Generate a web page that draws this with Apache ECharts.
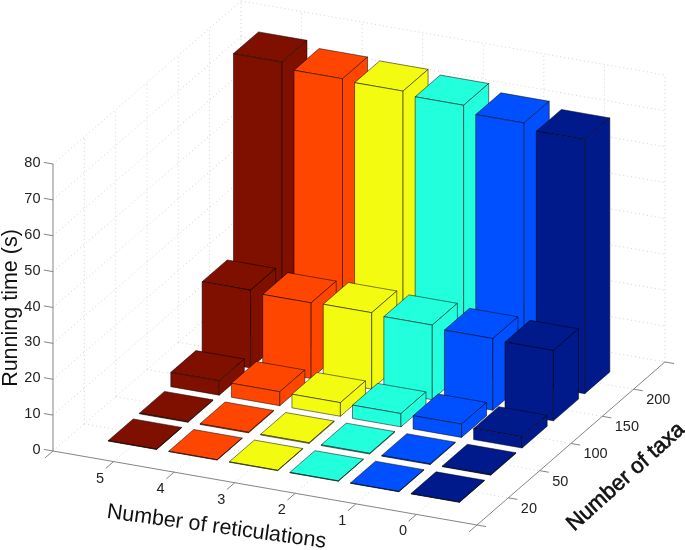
<!DOCTYPE html>
<html>
<head>
<meta charset="utf-8">
<style>html,body{margin:0;padding:0;background:#fff}#c{width:685px;height:550px;filter:blur(0.4px)}</style>
<script src="https://cdn.jsdelivr.net/npm/echarts@6/dist/echarts.min.js"></script>
</head>
<body>
<div id="c"></div>
<script>
// ---- data ----
const reticulations = ['5', '4', '3', '2', '1', '0'];
const taxa = ['20', '50', '100', '150', '200'];
const timeTicks = [0, 10, 20, 30, 40, 50, 60, 70, 80];
// running time per number of taxa, in the order of `reticulations`
const taxa20 = [0.1, 0.1, 0.1, 0.1, 0.1, 0.1];
const taxa50 = [0.2, 0.2, 0.2, 0.2, 0.2, 0.2];
const taxa100 = [4.0, 3.9, 3.8, 3.7, 3.7, 3.1];
const taxa150 = [21.7, 21.1, 21.3, 20.8, 20.0, 19.6];
const taxa200 = [77.7, 76.0, 75.5, 74.5, 72.5, 70.8];
const times = [taxa20, taxa50, taxa100, taxa150, taxa200];

// ---- styles ----
const barColors = ['#7f1000', '#ff4600', '#f2fb10', '#22ffdc', '#0050ff', '#001a8c'];
const axisColor = '#858585', gridColor = '#d4d4d4', textColor = '#222';
const FONT = '"Liberation Sans", Arial, sans-serif';

// ---- 3D view: floor units along reticulations (u), taxa (v), and time (w) ----
const view = { ox: 53, oy: 451, ux: 60.57, uy: 10.57, vx: 31.33, vy: -27.17, wy: -3.5875 };
const uMax = reticulations.length + 1, vMax = taxa.length + 1, wMax = 80;
const barW = 0.4;
function plane(u, v, w) {
  return [view.ox + view.ux * u + view.vx * v, view.oy + view.uy * u + view.vy * v + view.wy * w];
}
function poly(api, pts, style) {
  return { type: 'polygon', shape: { points: pts.map(p => api.coord(plane(p[0], p[1], p[2]))) }, style };
}
function seg(api, a, b, stroke, dash, width) {
  const p = api.coord(plane(a[0], a[1], a[2])), q = api.coord(plane(b[0], b[1], b[2]));
  return { type: 'line', shape: { x1: p[0], y1: p[1], x2: q[0], y2: q[1] },
    style: { stroke, lineWidth: width || 1, lineDash: dash || null } };
}
function label(api, at, text, dx, dy, align) {
  const p = api.coord(plane(at[0], at[1], at[2]));
  return { type: 'text', x: p[0] + dx, y: p[1] + dy, style: { text, align, verticalAlign: 'middle',
    fill: textColor, font: '14.5px ' + FONT } };
}

// ---- marks, back to front ----
const barData = [];
for (let t = taxa.length - 1; t >= 0; t--) {
  reticulations.forEach((r, i) => barData.push([i, t, times[t][i]]));
}
function renderBar(params, api) {
  const i = api.value(0), t = api.value(1), h = api.value(2);
  const u = i + 1, v = t + 1, a = barW;
  const style = { fill: barColors[i], stroke: '#000', strokeOpacity: 0.5, lineWidth: 1, lineJoin: 'round' };
  return { type: 'group', children: [
    poly(api, [[u - a, v - a, h], [u + a, v - a, h], [u + a, v + a, h], [u - a, v + a, h]], style),
    poly(api, [[u - a, v - a, 0], [u + a, v - a, 0], [u + a, v - a, h], [u - a, v - a, h]], style),
    poly(api, [[u + a, v - a, 0], [u + a, v + a, 0], [u + a, v + a, h], [u + a, v - a, h]], style)
  ] };
}
function renderGrid(params, api) {
  const c = [], dash = [1, 3];
  timeTicks.forEach(w => {
    c.push(seg(api, [0, 0, w], [0, vMax, w], gridColor, dash));
    c.push(seg(api, [0, vMax, w], [uMax, vMax, w], gridColor, dash));
  });
  reticulations.forEach((r, i) => {
    c.push(seg(api, [i + 1, 0, 0], [i + 1, vMax, 0], gridColor, dash));
    c.push(seg(api, [i + 1, vMax, 0], [i + 1, vMax, wMax], gridColor, dash));
  });
  taxa.forEach((r, t) => {
    c.push(seg(api, [0, t + 1, 0], [uMax, t + 1, 0], gridColor, dash));
    c.push(seg(api, [0, t + 1, 0], [0, t + 1, wMax], gridColor, dash));
  });
  c.push(seg(api, [0, vMax, 0], [0, vMax, wMax], gridColor, dash));
  c.push(seg(api, [uMax, vMax, 0], [uMax, vMax, wMax], gridColor, dash));
  return { type: 'group', children: c };
}
function renderAxes(params, api) {
  const c = [];
  c.push(seg(api, [0, 0, 0], [uMax, 0, 0], axisColor));
  c.push(seg(api, [uMax, 0, 0], [uMax, vMax, 0], axisColor));
  c.push(seg(api, [0, 0, 0], [0, 0, wMax], axisColor));
  for (let u = 0; u <= uMax; u++) {
    c.push(seg(api, [u, 0, 0], [u, -0.25, 0], axisColor));
    if (u >= 1 && u < uMax) c.push(label(api, [u, 0, 0], reticulations[u - 1], -13.5, 17, 'center'));
  }
  for (let v = 0; v <= vMax; v++) {
    c.push(seg(api, [uMax, v, 0], [uMax + 0.15, v, 0], axisColor));
    if (v >= 1 && v < vMax) c.push(label(api, [uMax, v, 0], taxa[v - 1], 12.5, 11, 'left'));
  }
  timeTicks.forEach(w => {
    c.push(seg(api, [0, 0, w], [-0.15, 0, w], axisColor));
    c.push(label(api, [0, 0, w], String(w), -12.5, -1, 'right'));
  });
  const title = (text, x, y, deg, size, extra) => ({ type: 'text', x, y, rotation: deg * Math.PI / 180,
    style: { text, align: 'center', verticalAlign: 'middle', fill: '#111', font: size + 'px ' + FONT, ...(extra || {}) } });
  c.push(title('Number of reticulations', 216.5, 527, -7.8, 21.5));
  c.push(title('Number of taxa', 626, 477, 42, 22, { stroke: '#111', lineWidth: 0.6 }));
  c.push(title('Running time (s)', 11, 308, 90, 21.5));
  return { type: 'group', children: c };
}

const chart = echarts.init(document.getElementById('c'), null, { renderer: 'canvas' });
chart.setOption({
  backgroundColor: '#fff',
  animation: false,
  tooltip: { show: false },
  grid: { left: 0, top: 0, width: 685, height: 550 },
  xAxis: { type: 'value', min: 0, max: 685, show: false },
  yAxis: { type: 'value', min: 0, max: 550, inverse: true, show: false },
  series: [
    { type: 'custom', name: 'grid', silent: true, clip: false, renderItem: renderGrid, data: [[0, 0]], z: 1 },
    { type: 'custom', name: 'axes', silent: true, clip: false, renderItem: renderAxes, data: [[0, 0]], z: 2 },
    { type: 'custom', name: 'Running time (s)', silent: true, clip: false, renderItem: renderBar, data: barData, z: 3,
      encode: { x: 0, y: 1 } }
  ]
});
</script>
</body>
</html>
